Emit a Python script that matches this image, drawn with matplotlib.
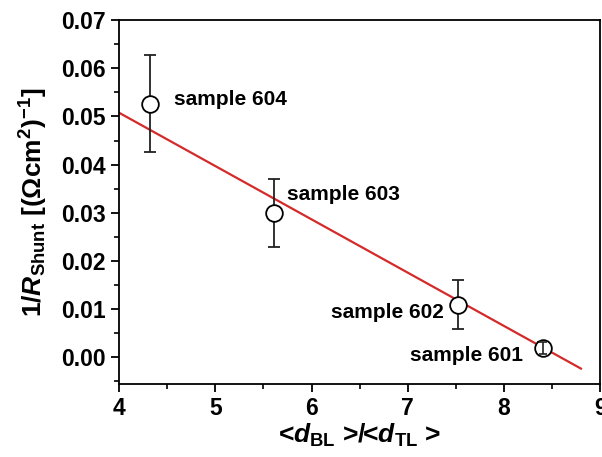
import numpy as np
import matplotlib
matplotlib.use('Agg')
import matplotlib.pyplot as plt
from matplotlib.ticker import MultipleLocator, FormatStrFormatter

# Data
samples = ['sample 604', 'sample 603', 'sample 602', 'sample 601']
thickness_ratio = [4.32, 5.61, 7.52, 8.41]          # <d_BL>/<d_TL>
inv_r_shunt = [0.0525, 0.0299, 0.0108, 0.0020]      # 1/R_shunt
err_low = [0.0099, 0.0069, 0.0050, 0.0012]
err_high = [0.0102, 0.0071, 0.0052, 0.0012]

fit_slope = -0.01106
fit_intercept = 0.0950
fit_range = [4.0, 8.8]

plt.rcParams['font.family'] = ['Liberation Sans', 'DejaVu Sans']
plt.rcParams['font.weight'] = 'bold'
plt.rcParams['mathtext.fontset'] = 'custom'
plt.rcParams['mathtext.rm'] = 'Liberation Sans:bold'
plt.rcParams['mathtext.bf'] = 'Liberation Sans:bold'
plt.rcParams['mathtext.it'] = 'Liberation Sans:italic:bold'

fig = plt.figure(figsize=(6.02, 4.57), dpi=100)
ax = fig.add_axes([0.198, 0.160, 0.799, 0.796])

# linear fit line
x_fit = np.array(fit_range)
ax.plot(x_fit, fit_slope * x_fit + fit_intercept, color='#d42a2a', lw=1.6, zorder=2)

# data points with error bars
ax.errorbar(thickness_ratio, inv_r_shunt, yerr=[err_low, err_high], fmt='o',
            ms=12, mfc='white', mec='black', mew=1.3, ecolor='#222222',
            elinewidth=1.3, capsize=4, capthick=1.3, zorder=3)
# the small error bar of the last sample shows through its circle
ax.errorbar(thickness_ratio[-1:], inv_r_shunt[-1:], yerr=[err_low[-1:], err_high[-1:]],
            fmt='none', ecolor='#222222', elinewidth=1.2, capsize=3, capthick=1.2, zorder=4)

# sample labels
label_pos = [(4.57, 0.0536, 'left'), (5.745, 0.0338, 'left'),
             (7.37, 0.0093, 'right'), (8.20, 0.0004, 'right')]
for name, (lx, ly, ha) in zip(samples, label_pos):
    ax.text(lx, ly, name, ha=ha, va='center', fontsize=15, fontweight='bold')

ax.set_xlim(4, 9)
ax.set_ylim(-0.0055, 0.07)
ax.xaxis.set_major_locator(MultipleLocator(1))
ax.xaxis.set_minor_locator(MultipleLocator(0.5))
ax.yaxis.set_major_locator(MultipleLocator(0.01))
ax.yaxis.set_minor_locator(MultipleLocator(0.005))
ax.yaxis.set_major_formatter(FormatStrFormatter('%.2f'))

ax.tick_params(which='major', direction='out', length=6, width=1.3, labelsize=16.5)
ax.tick_params(which='minor', direction='out', length=3.5, width=1.2)
for lab in ax.get_xticklabels() + ax.get_yticklabels():
    lab.set_fontweight('bold')
for sp in ax.spines.values():
    sp.set_linewidth(1.3)

ax.set_xlabel(r'<$\mathit{d}_{\mathrm{BL}}$ >/<$\mathit{d}_{\mathrm{TL}}$ >',
              fontsize=19, fontweight='bold', labelpad=1)
ax.set_ylabel(r'1/$\mathit{R}_{\mathrm{Shunt}}$ [(Ωcm$^{2}$)$^{-1}$]',
              fontsize=19, fontweight='bold', labelpad=8)

fig.savefig('out.png', dpi=100)
